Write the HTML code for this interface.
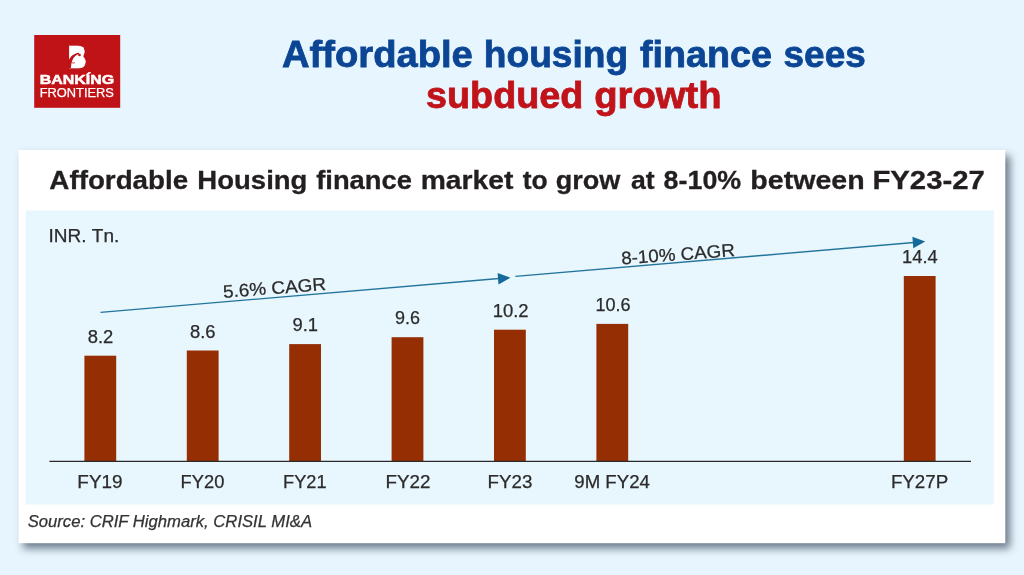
<!DOCTYPE html>
<html lang="en">
<head>
<meta charset="utf-8">
<title>Affordable housing finance sees subdued growth</title>
<style>
html,body{margin:0;padding:0;background:#e7f6fe;}
body{width:1024px;height:575px;overflow:hidden;font-family:"Liberation Sans",sans-serif;}
svg{display:block;}
text{font-family:"Liberation Sans",sans-serif;}
.h1{font-weight:bold;font-size:37.5px;}
.ct{font-weight:bold;font-size:26px;fill:#231f20;stroke:#231f20;stroke-width:0.3px;}
.lb{font-size:18px;fill:#2b2b2b;font-kerning:none;stroke:#2b2b2b;stroke-width:0.25px;}
.ax{font-size:18px;fill:#2b2b2b;font-kerning:none;stroke:#2b2b2b;stroke-width:0.25px;}
.src{font-style:italic;font-size:16px;fill:#333;stroke:#333;stroke-width:0.25px;}
</style>
</head>
<body>
<svg width="1024" height="575" viewBox="0 0 1024 575">
  <defs>
    <filter id="sh" x="-5%" y="-5%" width="110%" height="115%">
      <feGaussianBlur stdDeviation="4.2"/>
    </filter>
  </defs>
  <rect x="0" y="0" width="1024" height="575" fill="#e7f6fe"/>

  <!-- logo -->
  <g id="logo">
    <rect x="34.2" y="35" width="86" height="72.8" fill="#c01318"/>
    <rect x="71" y="47" width="12.5" height="19" fill="#fff"/>
    <text transform="translate(67.6,67.5) scale(0.85,1)" font-weight="bold" font-size="31" fill="#fff" stroke="#fff" stroke-width="0.6">B</text>
    <path d="M67,68.2 L67,60.2 L69.1,59.6 C70.6,56.6 73.4,53.4 79,52.7 L79.3,54 C74.2,55 71.4,59.6 70.9,68.2 Z" fill="#c01318"/>
    <circle cx="79.5" cy="55" r="1.35" fill="#c01318"/>
    <line x1="71.8" y1="62.9" x2="74.8" y2="62.9" stroke="#c01318" stroke-width="0.8"/>
    <path d="M86.5,55.2 L83.2,55.9 L86.5,56.8 Z" fill="#c01318"/>
    <text y="83.9" font-weight="bold" font-size="13" fill="#fff" stroke="#fff" stroke-width="0.5"><tspan id="bank" x="39.83" textLength="74.39" lengthAdjust="spacingAndGlyphs">BANKÍNG</tspan></text>
    <text y="97" font-size="13.4" fill="#fff" stroke="#fff" stroke-width="0.25"><tspan id="fron" x="39.63" textLength="74.28" lengthAdjust="spacingAndGlyphs">FRONTIERS</tspan></text>
  </g>

  <!-- headline -->
  <text class="h1" y="66.9" fill="#0b4594" stroke="#0b4594" stroke-width="0.8"><tspan id="h1_0" x="282.04" textLength="190.72" lengthAdjust="spacingAndGlyphs">Affordable</tspan> <tspan id="h1_1" x="483.78" textLength="144.43" lengthAdjust="spacingAndGlyphs">housing</tspan> <tspan id="h1_2" x="639.99" textLength="131.92" lengthAdjust="spacingAndGlyphs">finance</tspan> <tspan id="h1_3" x="783.62" textLength="82.07" lengthAdjust="spacingAndGlyphs">sees</tspan></text>
  <text class="h1" y="107.6" fill="#c0141a" stroke="#c0141a" stroke-width="0.8"><tspan id="h2_0" x="426.07" textLength="157.27" lengthAdjust="spacingAndGlyphs">subdued</tspan> <tspan id="h2_1" x="594.17" textLength="127.42" lengthAdjust="spacingAndGlyphs">growth</tspan></text>

  <!-- card -->
  <rect x="23" y="155.5" width="987" height="393" fill="#3a4a5c" opacity="0.72" filter="url(#sh)"/>
  <rect x="18.5" y="150" width="986.8" height="393.2" fill="#ffffff"/>
  <rect x="25.7" y="210.5" width="968" height="294" fill="#e8f6fe"/>

  <text class="ct" y="188.8"><tspan id="ct_0" x="49.34" textLength="138.87" lengthAdjust="spacingAndGlyphs">Affordable</tspan> <tspan id="ct_1" x="197.36" textLength="110.05" lengthAdjust="spacingAndGlyphs">Housing</tspan> <tspan id="ct_2" x="316.19" textLength="95.82" lengthAdjust="spacingAndGlyphs">finance</tspan> <tspan id="ct_3" x="420.67" textLength="92.69" lengthAdjust="spacingAndGlyphs">market</tspan> <tspan id="ct_4" x="522.65" textLength="24.96" lengthAdjust="spacingAndGlyphs">to</tspan> <tspan id="ct_5" x="555.74" textLength="64.63" lengthAdjust="spacingAndGlyphs">grow</tspan> <tspan id="ct_6" x="631.03" textLength="23.69" lengthAdjust="spacingAndGlyphs">at</tspan> <tspan id="ct_7" x="663.64" textLength="77.61" lengthAdjust="spacingAndGlyphs">8-10%</tspan> <tspan id="ct_8" x="750.31" textLength="114.32" lengthAdjust="spacingAndGlyphs">between</tspan> <tspan id="ct_9" x="872.40" textLength="112.47" lengthAdjust="spacingAndGlyphs">FY23-27</tspan></text>

  <text class="ax" y="241.6"><tspan id="inr" x="48.49" textLength="70.82" lengthAdjust="spacingAndGlyphs">INR. Tn.</tspan></text>

  <!-- bars -->
  <g fill="#962e04">
    <rect x="84.4" y="355.7" width="31.8" height="106"/>
    <rect x="186.8" y="350.5" width="31.8" height="111.2"/>
    <rect x="289.2" y="344.1" width="31.8" height="117.6"/>
    <rect x="391.6" y="337.2" width="31.8" height="124.5"/>
    <rect x="494" y="329.7" width="31.8" height="132"/>
    <rect x="596.4" y="323.9" width="31.8" height="137.8"/>
    <rect x="903.8" y="276" width="31.8" height="185.7"/>
  </g>
  <line x1="49.4" y1="461.4" x2="971" y2="461.4" stroke="#2b2b2b" stroke-width="1.2"/>

  <!-- value labels -->
  <g class="lb">
    <text y="342.7"><tspan id="vl_0" x="87.66" textLength="25.56" lengthAdjust="spacingAndGlyphs">8.2</tspan></text>
    <text y="337.5"><tspan id="vl_1" x="189.96" textLength="25.54" lengthAdjust="spacingAndGlyphs">8.6</tspan></text>
    <text y="331.1"><tspan id="vl_2" x="292.50" textLength="25.52" lengthAdjust="spacingAndGlyphs">9.1</tspan></text>
    <text y="324.2"><tspan id="vl_3" x="395.02" textLength="24.96" lengthAdjust="spacingAndGlyphs">9.6</tspan></text>
    <text y="316.7"><tspan id="vl_4" x="492.71" textLength="35.91" lengthAdjust="spacingAndGlyphs">10.2</tspan></text>
    <text y="311.2"><tspan id="vl_5" x="595.42" textLength="35.09" lengthAdjust="spacingAndGlyphs">10.6</tspan></text>
    <text y="262.9"><tspan id="vl_6" x="902.09" textLength="35.70" lengthAdjust="spacingAndGlyphs">14.4</tspan></text>
  </g>

  <!-- axis labels -->
  <g class="ax">
    <text y="488"><tspan id="ax_0" x="77.39" textLength="45.16" lengthAdjust="spacingAndGlyphs">FY19</tspan></text>
    <text y="488"><tspan id="ax_1" x="180.60" textLength="43.74" lengthAdjust="spacingAndGlyphs">FY20</tspan></text>
    <text y="488"><tspan id="ax_2" x="283.10" textLength="43.50" lengthAdjust="spacingAndGlyphs">FY21</tspan></text>
    <text y="488"><tspan id="ax_3" x="385.43" textLength="45.00" lengthAdjust="spacingAndGlyphs">FY22</tspan></text>
    <text y="488"><tspan id="ax_4" x="487.55" textLength="44.79" lengthAdjust="spacingAndGlyphs">FY23</tspan></text>
    <text y="488"><tspan id="ax_5" x="574.28" textLength="75.64" lengthAdjust="spacingAndGlyphs">9M FY24</tspan></text>
    <text y="488"><tspan id="ax_6" x="890.91" textLength="57.32" lengthAdjust="spacingAndGlyphs">FY27P</tspan></text>
  </g>

  <!-- arrows -->
  <g stroke="#22749a" stroke-width="1.4" fill="#146a98">
    <line x1="100.5" y1="312.4" x2="499" y2="278.5"/>
    <polygon points="510.4,277.7 497.6,273.1 498.5,284.5" stroke="none"/>
    <line x1="515.4" y1="276.4" x2="914" y2="242.5"/>
    <polygon points="925.2,241.5 912.4,236.8 913.3,248.2" stroke="none"/>
  </g>
  <text class="ax" x="223.6" y="297.9" transform="rotate(-4.4 223.6 297.9)" textLength="103" lengthAdjust="spacingAndGlyphs">5.6% CAGR</text>
  <text class="ax" x="621.7" y="264.6" transform="rotate(-4.3 621.7 264.6)" textLength="113.8" lengthAdjust="spacingAndGlyphs">8-10% CAGR</text>

  <text class="src" y="526.8"><tspan id="src" x="27.65" textLength="284.40" lengthAdjust="spacingAndGlyphs">Source: CRIF Highmark, CRISIL MI&amp;A</tspan></text>
</svg>
</body>
</html>
